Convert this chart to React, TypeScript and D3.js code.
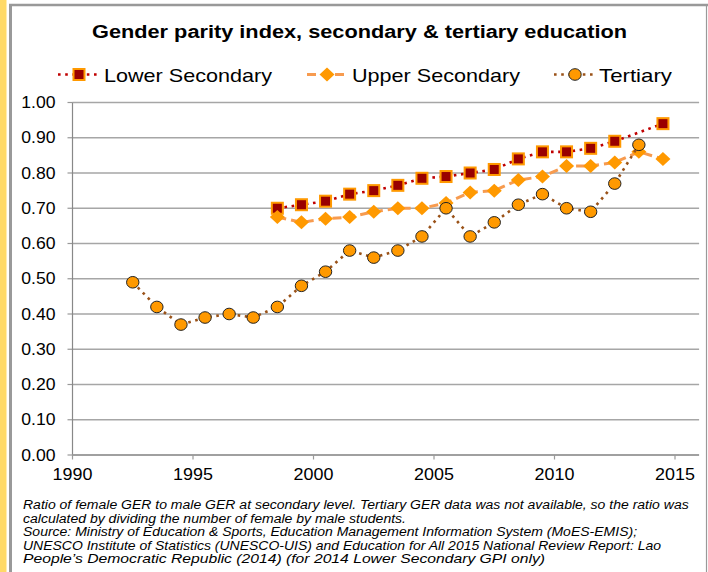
import { scaleLinear, line, range } from 'd3'
import { useLayoutEffect, useRef, useState } from 'react'

// school years (start year), plotted at mid-year
const startYears = range(1992, 2015)
const lowerSecondary = [null, null, null, null, null, null, 0.7, 0.71, 0.72, 0.74, 0.75, 0.765, 0.785, 0.79, 0.8, 0.81, 0.84, 0.86, 0.86, 0.87, 0.89, null, 0.94]
const upperSecondary = [null, null, null, null, null, null, 0.675, 0.66, 0.67, 0.675, 0.69, 0.7, 0.7, 0.715, 0.745, 0.75, 0.78, 0.79, 0.82, 0.82, 0.83, 0.86, 0.84]
const tertiary = [0.49, 0.42, 0.37, 0.39, 0.4, 0.39, 0.42, 0.48, 0.52, 0.58, 0.56, 0.58, 0.62, 0.7, 0.62, 0.66, 0.71, 0.74, 0.7, 0.69, 0.77, 0.88, null]
const xTicks = [1990, 1995, 2000, 2005, 2010, 2015]
const yTicks = range(0, 11).map((d) => d / 10)

const title = 'Gender parity index, secondary & tertiary education'
const notes = [
  'Ratio of female GER to male GER at secondary level. Tertiary GER data was not available, so the ratio was',
  'calculated by dividing the number of female by male students.',
  'Source: Ministry of Education & Sports, Education Management Information System (MoES-EMIS);',
  'UNESCO Institute of Statistics (UNESCO-UIS) and Education for All 2015 National Review Report: Lao',
  'People\u2019s Democratic Republic (2014)  (for 2014 Lower Secondary GPI only)',
]
// last two lines sit in a wider text run in the original
const noteWidths: (number | null)[] = [null, null, null, 638, 522]

const FONT = '"Liberation Sans", Arial, sans-serif'
const W = 708
const H = 572

const x = scaleLinear().domain([1990, 2016]).range([72.5, 699.1])
const y = scaleLinear().domain([0, 1]).range([455, 102.5])

type Pt = { yr: number; v: number }
const toPts = (vals: (number | null)[]): Pt[] =>
  startYears.map((yr, i) => ({ yr: yr + 0.5, v: vals[i] as number })).filter((p) => p.v != null)

const path = line<Pt>()
  .x((p) => x(p.yr))
  .y((p) => y(p.v))

function Square({ cx, cy }: { cx: number; cy: number }) {
  return <rect x={cx - 5.5} y={cy - 5.5} width={11} height={11} fill="#990000" stroke="#FF9900" strokeWidth={2} />
}
function Diamond({ cx, cy }: { cx: number; cy: number }) {
  return <path d={`M${cx},${cy - 7}L${cx + 7.5},${cy}L${cx},${cy + 7}L${cx - 7.5},${cy}Z`} fill="#FF9900" />
}
function Circle({ cx, cy }: { cx: number; cy: number }) {
  return <ellipse cx={cx} cy={cy} rx={6.2} ry={5.8} fill="#FF9900" stroke="#222" strokeWidth={1} />
}

const lowerStyle = { stroke: '#C00000', strokeWidth: 2.6, strokeDasharray: '2.6 4.6' }
const upperStyle = { stroke: '#F79B4F', strokeWidth: 3, strokeDasharray: '9 5' }
const tertStyle = { stroke: '#9A5218', strokeWidth: 2.6, strokeDasharray: '2.6 4.6' }

export default function App() {
  const lp = toPts(lowerSecondary)
  const up = toPts(upperSecondary)
  const tp = toPts(tertiary)

  // footnote is stretched horizontally: fit the first line to its width, same stretch for the next lines
  const noteRef = useRef<SVGTextElement>(null)
  const [noteScale, setNoteScale] = useState(1.08)
  useLayoutEffect(() => {
    if (noteRef.current) {
      const len = noteRef.current.getComputedTextLength()
      if (len > 0) setNoteScale(666 / len)
    }
  }, [])

  return (
    <svg
      width={W}
      height={H}
      style={{ position: 'absolute', left: 0, top: 0, background: '#fff' }}
      fontFamily={FONT}
    >
      {/* frame */}
      <rect x={0} y={0} width={6.5} height={H} fill="#FFD966" />
      <line x1={10.5} y1={4} x2={10.5} y2={H} stroke="#999" strokeWidth={3} />
      <line x1={9} y1={5} x2={W} y2={5} stroke="#999" strokeWidth={2.5} />
      <line x1={706.5} y1={5} x2={706.5} y2={H} stroke="#999" strokeWidth={1.2} />

      {/* title */}
      <text x={92} y={37.5} fontSize={18} fontWeight="bold" textLength={535} lengthAdjust="spacingAndGlyphs">
        {title}
      </text>

      {/* legend */}
      <g>
        <line x1={58} x2={99} y1={74.5} y2={74.5} {...lowerStyle} />
        <Square cx={79} cy={74.5} />
        <text x={104} y={81.7} fontSize={19} textLength={168} lengthAdjust="spacingAndGlyphs">Lower Secondary</text>
        <line x1={307} x2={345} y1={74.5} y2={74.5} {...upperStyle} />
        <Diamond cx={327} cy={74.5} />
        <text x={352} y={81.7} fontSize={19} textLength={168} lengthAdjust="spacingAndGlyphs">Upper Secondary</text>
        <line x1={554} x2={594} y1={74.5} y2={74.5} {...tertStyle} />
        <Circle cx={575} cy={74.5} />
        <text x={599} y={81.7} fontSize={19} textLength={73} lengthAdjust="spacingAndGlyphs">Tertiary</text>
      </g>

      {/* grid + y axis */}
      {yTicks.map((t) => (
        <g key={t}>
          {t > 0 && <line x1={x(1990)} x2={x(2016)} y1={y(t)} y2={y(t)} stroke="#A6A6A6" strokeWidth={1.5} />}
          <line x1={x(1990) - 5} x2={x(1990)} y1={y(t)} y2={y(t)} stroke="#999" strokeWidth={1.2} />
          <text
            transform={`translate(55.5,${y(t) + 5.5}) scale(1.1,1)`}
            fontSize={16}
            textAnchor="end"
          >
            {t.toFixed(2)}
          </text>
        </g>
      ))}
      <line x1={x(1990)} x2={x(1990)} y1={y(1)} y2={y(0)} stroke="#888" strokeWidth={1.2} />
      <line x1={x(1990)} x2={x(2016)} y1={y(0)} y2={y(0)} stroke="#A0A0A0" strokeWidth={2} />

      {/* x axis */}
      {xTicks.map((t) => (
        <g key={t}>
          <line x1={x(t)} x2={x(t)} y1={y(0)} y2={y(0) + 4.5} stroke="#999" strokeWidth={1.2} />
          <text transform={`translate(${x(t)},479.5) scale(1.12,1)`} fontSize={16} textAnchor="middle">
            {t}
          </text>
        </g>
      ))}

      {/* series */}
      <path d={path(lp) ?? ''} fill="none" {...lowerStyle} />
      {lp.map((p) => (
        <Square key={p.yr} cx={x(p.yr)} cy={y(p.v)} />
      ))}
      <path d={path(up) ?? ''} fill="none" {...upperStyle} />
      {up.map((p) => (
        <Diamond key={p.yr} cx={x(p.yr)} cy={y(p.v)} />
      ))}
      <path d={path(tp) ?? ''} fill="none" {...tertStyle} />
      {tp.map((p) => (
        <Circle key={p.yr} cx={x(p.yr)} cy={y(p.v)} />
      ))}

      {/* footnote */}
      {notes.map((n, i) =>
        noteWidths[i] ? (
          <text
            key={i}
            x={23}
            y={509.3 + i * 13.45}
            fontSize={12.2}
            fontStyle="italic"
            textLength={noteWidths[i] as number}
            lengthAdjust="spacingAndGlyphs"
          >
            {n}
          </text>
        ) : (
          <text
            key={i}
            ref={i === 0 ? noteRef : undefined}
            transform={`translate(23,${509.3 + i * 13.45}) scale(${noteScale},1)`}
            fontSize={12.2}
            fontStyle="italic"
          >
            {n}
          </text>
        )
      )}
    </svg>
  )
}
